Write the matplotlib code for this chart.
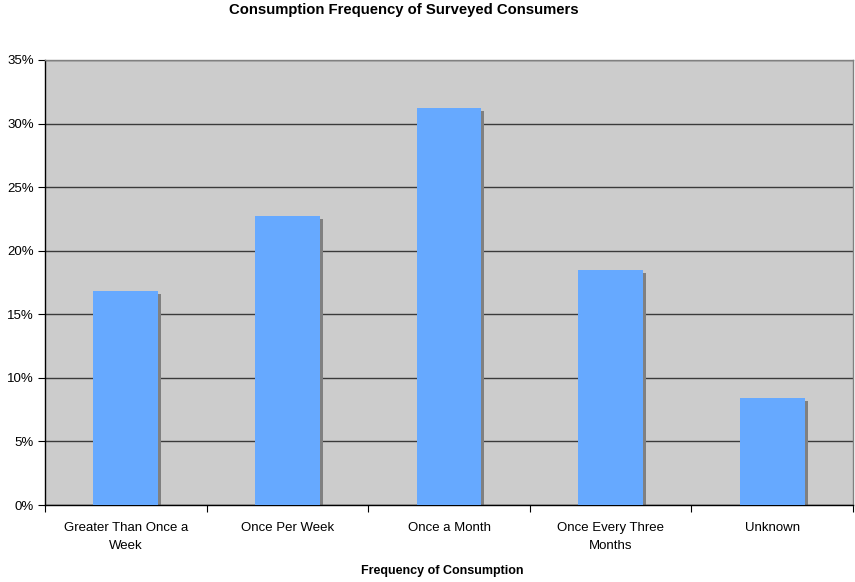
import matplotlib

matplotlib.use("Agg")
import matplotlib.pyplot as plt
import matplotlib.transforms as mtransforms
from matplotlib.ticker import FuncFormatter, MultipleLocator

categories = [
    "Greater Than Once a\nWeek",
    "Once Per Week",
    "Once a Month",
    "Once Every Three\nMonths",
    "Unknown",
]
shares = [16.8, 22.7, 31.2, 18.5, 8.4]

BAR_COLOR = "#66A9FF"
SHADOW_COLOR = "#808080"
FACE_COLOR = "#CCCCCC"

plt.rcParams["font.family"] = ["Liberation Sans", "DejaVu Sans"]

fig = plt.figure(figsize=(8.55, 5.82), dpi=100)
ax = fig.add_axes([45 / 855, 77 / 582, 808 / 855, 445 / 582])
ax.set_facecolor(FACE_COLOR)

x = list(range(len(categories)))
shadow = mtransforms.offset_copy(ax.transData, fig=fig, x=3, y=-3, units="dots")
ax.bar(x, shares, width=0.4, color=SHADOW_COLOR, transform=shadow, zorder=2)
ax.bar(x, shares, width=0.4, color=BAR_COLOR, zorder=3)

ax.set_xlim(-0.5, len(categories) - 0.5)
ax.set_ylim(0, 35)
ax.yaxis.set_major_locator(MultipleLocator(5))
ax.yaxis.set_major_formatter(FuncFormatter(lambda v, _: f"{v:.0f}%"))
ax.grid(axis="y", color="#3A3A3A", linewidth=1.0, zorder=1)
ax.set_axisbelow(True)

ax.set_xticks([i - 0.5 for i in range(len(categories) + 1)])
ax.set_xticklabels([])
ax.set_xticks(x, minor=True)
ax.set_xticklabels(categories, minor=True, fontsize=9.5, linespacing=1.75)
ax.tick_params(axis="x", which="minor", length=0, pad=12)
ax.tick_params(axis="x", which="major", direction="out", length=5, color="black")
ax.tick_params(axis="y", direction="out", length=5, labelsize=9.5, pad=3)

for side in ("left", "bottom"):
    ax.spines[side].set_color("black")
    ax.spines[side].set_linewidth(1.0)
for side in ("top", "right"):
    ax.spines[side].set_color("#808080")
    ax.spines[side].set_linewidth(1.0)

fig.text(404 / 855, 1 - 10 / 582, "Consumption Frequency of Surveyed Consumers",
         ha="center", va="center", fontsize=10.75, fontweight="bold",
         family=["Liberation Sans Narrow", "Liberation Sans"])
fig.text(442 / 855, 1 - 571 / 582, "Frequency of Consumption",
         ha="center", va="center", fontsize=9, fontweight="bold",
         family=["Liberation Sans Narrow", "Liberation Sans"])

fig.savefig("out.png", dpi=100)
